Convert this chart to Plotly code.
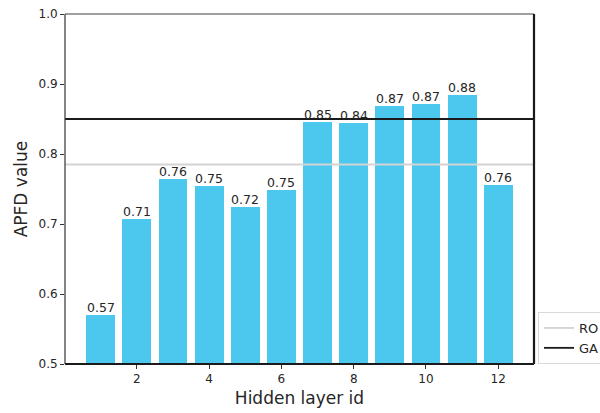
import plotly.graph_objects as go

layer_ids = [1, 2, 3, 4, 5, 6, 7, 8, 9, 10, 11, 12]
apfd_values = [0.570, 0.707, 0.764, 0.754, 0.724, 0.749, 0.846, 0.844, 0.869, 0.871, 0.884, 0.756]
ro_value = 0.785
ga_value = 0.850
x_ticks = [2, 4, 6, 8, 10, 12]
y_ticks = [0.5, 0.6, 0.7, 0.8, 0.9, 1.0]

x_range = [0.01, 12.99]
y_range = [0.5, 1.0]

FONT = "DejaVu Sans"
TXT = "#262626"
BAR = "#4cc8ef"

fig = go.Figure()

fig.add_trace(go.Bar(
    x=layer_ids, y=apfd_values, width=0.8, marker=dict(color=BAR, line=dict(width=0)),
    base=0, showlegend=False, hoverinfo="skip"))

fig.add_trace(go.Scatter(
    x=x_range, y=[ro_value, ro_value], mode="lines", name="RO",
    line=dict(color="#d3d3d3", width=1.8), hoverinfo="skip"))
fig.add_trace(go.Scatter(
    x=x_range, y=[ga_value, ga_value], mode="lines", name="GA",
    line=dict(color="#1a1a1a", width=1.8), hoverinfo="skip"))

for xv, yv in zip(layer_ids, apfd_values):
    fig.add_annotation(x=xv, y=yv, text=f"{yv:.2f}", showarrow=False,
                       xanchor="center", yanchor="bottom", yshift=-2,
                       font=dict(family=FONT, size=12.5, color=TXT))

# spines
fig.add_shape(type="line", xref="paper", yref="paper", x0=0, x1=1, y0=1, y1=1,
              line=dict(color="#808080", width=1.3))
fig.add_shape(type="line", xref="paper", yref="paper", x0=0, x1=0, y0=0, y1=1,
              line=dict(color="#333333", width=1.2))
fig.add_shape(type="line", xref="paper", yref="paper", x0=1, x1=1, y0=0, y1=1,
              line=dict(color="#1a1a1a", width=2.2))
fig.add_shape(type="line", xref="paper", yref="paper", x0=0, x1=1, y0=0, y1=0,
              line=dict(color="#1a1a1a", width=2.2))

fig.update_layout(
    width=600, height=413,
    margin=dict(l=65, r=66, t=14, b=49, autoexpand=False),
    plot_bgcolor="white", paper_bgcolor="white",
    font=dict(family=FONT, color=TXT, size=12),
    bargap=0,
    xaxis=dict(range=x_range, tickvals=x_ticks, ticks="outside", ticklen=4,
               tickcolor="#333333", showgrid=False, zeroline=False, showline=False,
               automargin=False,
               tickfont=dict(family=FONT, size=12, color=TXT),
               title=dict(text="Hidden layer id", font=dict(family=FONT, size=17, color=TXT), standoff=6)),
    yaxis=dict(range=y_range, tickvals=y_ticks, tickformat=".1f", ticks="outside", ticklen=4,
               tickcolor="#333333", showgrid=False, zeroline=False, showline=False,
               automargin=False,
               tickfont=dict(family=FONT, size=12, color=TXT),
               title=dict(text="APFD value", font=dict(family=FONT, size=17, color=TXT), standoff=6)),
    legend=dict(x=1.0085, y=0, xanchor="left", yanchor="bottom",
                bordercolor="#d9d9d9", borderwidth=1, bgcolor="white",
                font=dict(family=FONT, size=13, color=TXT), tracegroupgap=0),
    showlegend=True,
)

fig.write_html("out.html", config={"displayModeBar": False},
               post_script="document.body.style.margin='0';")
